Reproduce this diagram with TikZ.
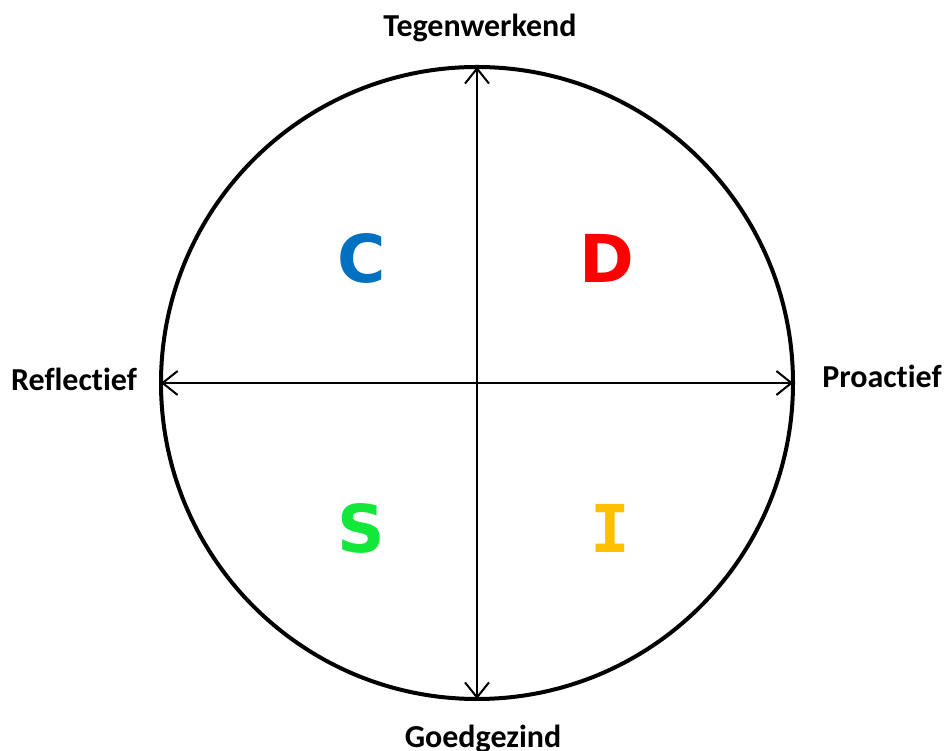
\documentclass[tikz,border=0pt]{standalone}
\usepackage{fontspec}
\setmainfont{Carlito}[Ligatures={NoCommon,NoRare,NoContextual}]
\newfontfamily\letterfont{DejaVu Sans}
\newfontfamily\letterfontmono{DejaVu Sans Mono}
\usetikzlibrary{arrows.meta}
\definecolor{cblue}{HTML}{0070C0}
\definecolor{dred}{HTML}{FF0000}
\definecolor{sgreen}{HTML}{12E83A}
\definecolor{iyellow}{HTML}{FFC000}
\begin{document}
\begin{tikzpicture}[x=1pt,y=1pt,
  axis/.style={line width=2pt, {Straight Barb[length=15pt,width=24pt,line width=2pt]}-{Straight Barb[length=15pt,width=24pt,line width=2pt]}},
  lab/.style={font=\bfseries\fontsize{32}{35}\selectfont, inner sep=0pt, anchor=base},
  letter/.style={font=\letterfont\bfseries\fontsize{66}{70}\selectfont, inner sep=0pt, anchor=base}]
\useasboundingbox (0,0) rectangle (944,751);
\fill[white] (0,0) rectangle (944,751);
\node[circle, draw, line width=4pt, minimum size=632pt, inner sep=0pt] (c) at (477,368) {};
\coordinate (top) at (477,684);
\coordinate (bot) at (477,52);
\coordinate (lft) at (161,368);
\coordinate (rgt) at (793,368);
\draw[axis] (bot) -- (top);
\draw[axis] (lft) -- (rgt);
\node[lab] (tw) at (480,714) {Tegenwerkend};
\node[lab] (gz) at (483,3) {Goedgezind};
\node[lab] (rf) at (74,360) {Reflectief};
\node[lab] (pa) at (882,363) {Proactief};
\node[letter, text=cblue] (C) at (362,468) {C};
\node[letter, text=dred] (D) at (607,468) {D};
\node[letter, text=sgreen] (S) at (361,198) {S};
\node[letter, text=iyellow, font=\letterfontmono\bfseries\fontsize{66}{70}\selectfont] (I) at (610,198) {I};
\end{tikzpicture}
\end{document}
